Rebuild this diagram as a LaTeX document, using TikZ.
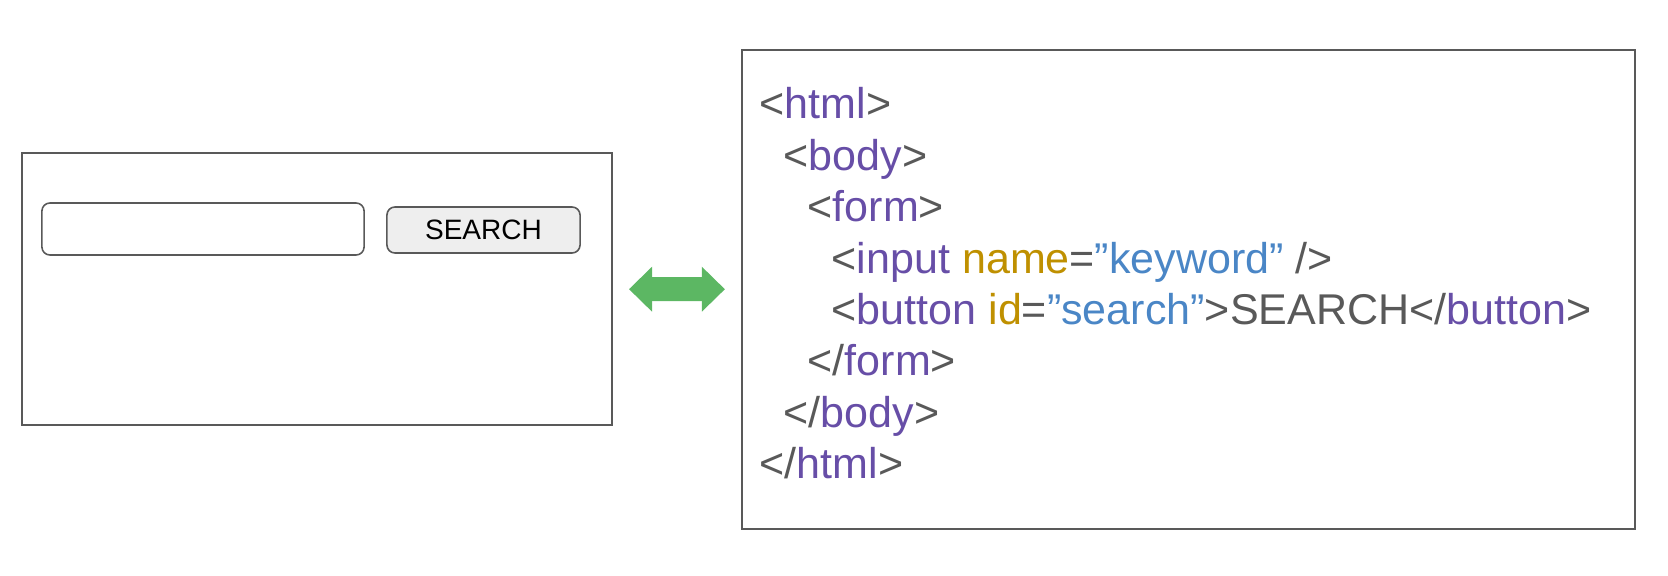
\documentclass[tikz,border=0pt]{standalone}
\usepackage{fontspec}
\setmainfont{Liberation Sans}
\usetikzlibrary{arrows.meta}
\usepackage{xcolor}

\definecolor{framegray}{HTML}{595959}
\definecolor{btngray}{HTML}{EEEEEE}
\definecolor{linkgreen}{RGB}{92,183,99}
\definecolor{tagpurple}{HTML}{674EA7}
\definecolor{attrgold}{HTML}{BF9000}
\definecolor{valblue}{RGB}{74,134,198}

\newcommand{\tagname}[1]{\textcolor{tagpurple}{#1}}
\newcommand{\attrname}[1]{\textcolor{attrgold}{#1}}
\newcommand{\attrval}[1]{\textcolor{valblue}{#1}}

\begin{document}
\begin{tikzpicture}[x=0.01cm, y=-0.01cm,
  frame/.style={draw=framegray, line width=0.5pt, inner sep=0pt},
  widget/.style={frame, line width=0.45pt, rounded corners=0.08cm},
  code/.style={anchor=base west, inner sep=0pt, text=framegray,
    font=\fontsize{12.24}{14}\selectfont},
  link/.style={draw=linkgreen, line width=0.24cm,
    shorten <=0.16cm, shorten >=0.16cm,
    arrows={Triangle[length=0.23cm,width=0.45cm,line width=0pt]-Triangle[length=0.23cm,width=0.45cm,line width=0pt]}}]
\useasboundingbox (0,0) rectangle (1668,576);

% browser window
\node[frame, minimum width=5.90cm, minimum height=2.72cm] at (317,289) (page) {};
\node[widget, minimum width=3.22cm, minimum height=0.52cm] at (203,229) (field) {};
\node[widget, fill=btngray, minimum width=1.93cm, minimum height=0.46cm,
  font=\fontsize{7.97}{9}\selectfont] at (483.5,230) (searchbtn) {SEARCH};

% source
\node[frame, minimum width=8.93cm, minimum height=4.79cm] at (1188.5,289.5) (source) {};
\node[code] at (759,119)   (html)   {<\tagname{html}>};
\node[code] at (783,170.4) (body)   {<\tagname{body}>};
\node[code] at (807,221.8) (form)   {<\tagname{form}>};
\node[code] at (831,273.2) (input)  {<\tagname{input} \attrname{name}=\attrval{”keyword”} />};
\node[code] at (831,324.6) (button) {<\tagname{button} \attrname{id}=\attrval{”search”}>SEARCH</\tagname{button}>};
\node[code] at (807,376)   (eform)  {</\tagname{form}>};
\node[code] at (783,427.4) (ebody)  {</\tagname{body}>};
\node[code] at (759,478.8) (ehtml)  {</\tagname{html}>};

\path (page) edge[link] (source);
\end{tikzpicture}
\end{document}
